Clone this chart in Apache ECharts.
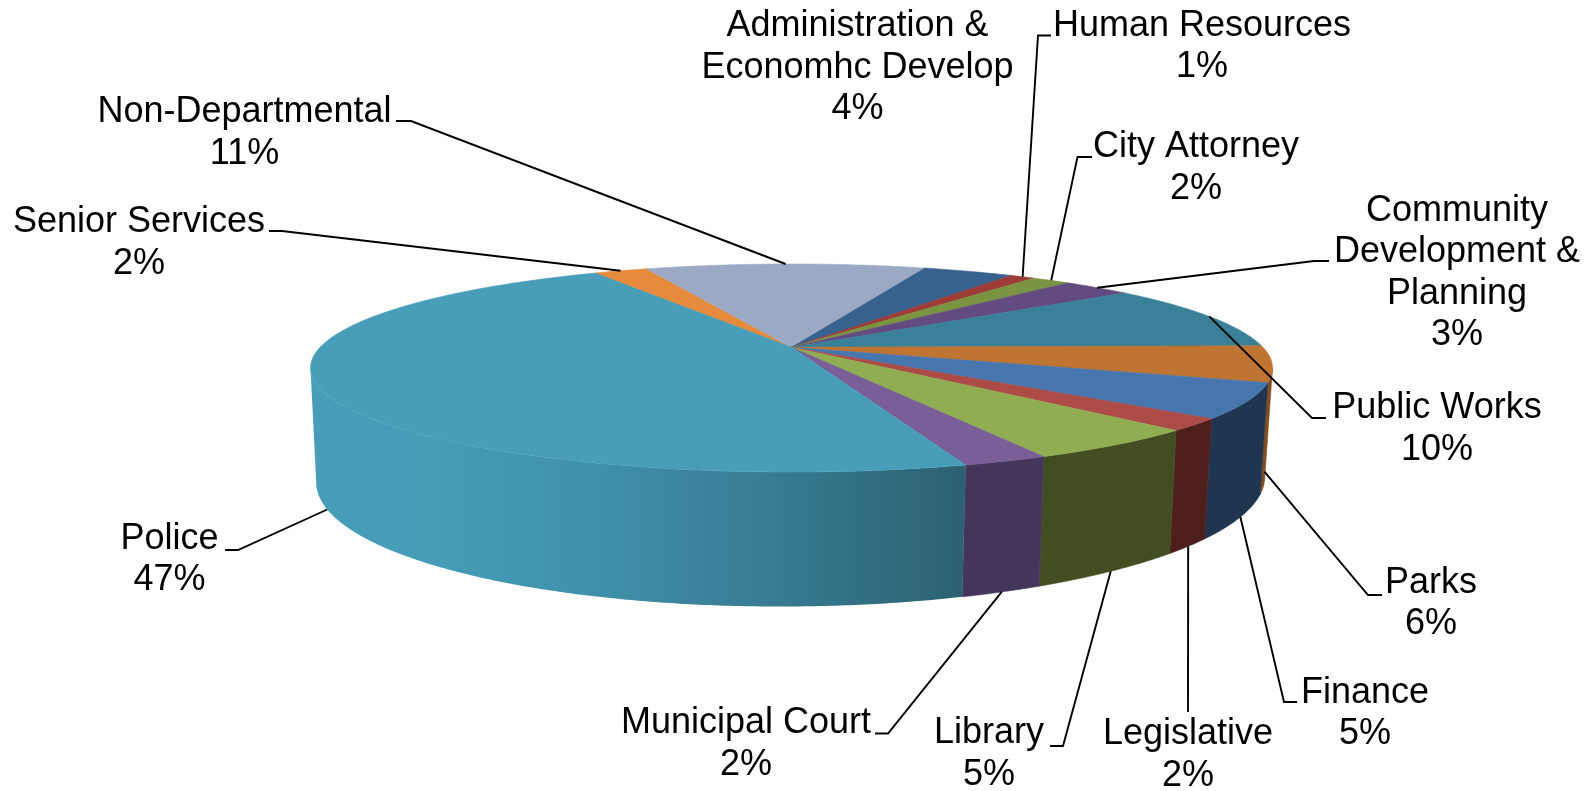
<!DOCTYPE html>
<html>
<head>
<meta charset="utf-8">
<style>html,body{margin:0;padding:0;background:#fff}#c{width:1591px;height:791px}</style>
<script src="https://cdn.jsdelivr.net/npm/echarts@6/dist/echarts.min.js"></script>
</head>
<body>
<div id="c"></div>
<script>
// ---- data (clockwise from the Senior Services / Police boundary)
var categories = ['Senior Services','Non-Departmental','Administration &\nEconomhc Develop','Human Resources','City Attorney','Community\nDevelopment &\nPlanning','Public Works','Parks','Finance','Legislative','Library','Municipal Court','Police'];
var shares = [2.2,11.4,3.7,1.0,1.6,2.8,10.2,5.6,5.4,1.9,5.1,2.4,46.7];

// ---- styles
var topColors  = ['#E68B3B','#9BA9C5','#37618F','#9E3B37','#7B9442','#634A80','#3A8098','#BF7431','#4775AE','#AD4B47','#90AD52','#795E98','#489DB9'];
var wallColors = ['#E68B3B','#9BA9C5','#37618F','#9E3B37','#7B9442','#634A80','#3A8098','#7F4E22','#1F3550','#4F1F1E','#434D22','#43365A',null];

// ---- layout: label centres, leader elbows, and which rim a leader lands on
var labelCentres = [[139,243],[244.5,133],[857.5,68],[1202,46.5],[1196,168],[1457,273],[1437,429],[1431,603.5],[1365,713.5],[1188,755],[989,754],[746,744],[169.5,559.5]];
var leaderElbows = [
  [[269,231],[282,231]],[[396,121],[411,121]],null,[[1051,35.5],[1038,35.5]],[[1092,157],[1077.5,157]],
  [[1329,261],[1314,261]],[[1326,418],[1312,418]],[[1382,595],[1368,595]],[[1297,702],[1284,702]],
  [[1188,712]],[[1050,746],[1063,746]],[[875,733.5],[888,733.5]],[[225,550],[238,550]]
];
var leaderOnBottom = [0,0,0,0,0,0,0,1,1,1,1,1,1];
var startAngle = -29.3;
var persp = 0.199;
var topFace = {cx:791.5, cy:347.3, rx:471.4, ry:99.9, tilt:0};
var baseFace = {cx:790.5, cy:454.2, rx:464.8, ry:122, tilt:0.006};
var wallFrom = 101.5, wallTo = 258.5;
var fontSize = 36, lineH = 41.5;

var total = shares.reduce(function(a,b){return a+b;},0);
var bounds = [startAngle];
shares.forEach(function(v,i){bounds.push(bounds[i]+v/total*360);});

function project(face, deg){
  var t = deg*Math.PI/180, X = Math.sin(t), Y = -Math.cos(t), w = 1-persp*Y;
  var dx = face.rx*X/w;
  return [face.cx+dx, face.cy+face.ry*Y/w-face.tilt*dx];
}
function arc(face, a, b){
  var pts = [], n = Math.max(2, Math.ceil(Math.abs(b-a)/0.5));
  for (var i=0;i<=n;i++) pts.push(project(face, a+(b-a)*i/n));
  return pts;
}
function renderWall(params, api){
  var i = api.value(0), a = Math.max(bounds[i],wallFrom), b = Math.min(bounds[i+1],wallTo);
  if (b<=a) return {type:'group',children:[]};
  var pts = arc(topFace,a,b).concat(arc(baseFace,b,a));
  var fill = wallColors[i] || new echarts.graphic.LinearGradient(316,0,966,0,[
    {offset:0,color:'#489DB9'},{offset:0.18,color:'#459DB8'},{offset:0.45,color:'#3F8FA8'},
    {offset:0.72,color:'#367A90'},{offset:1,color:'#2B6172'}],true);
  return {type:'polygon',shape:{points:pts},style:{fill:fill,stroke:wallColors[i]||'rgba(0,0,0,0)',lineWidth:wallColors[i]?0.6:0}};
}
function renderTop(params, api){
  var i = api.value(0);
  var pts = [[topFace.cx,topFace.cy]].concat(arc(topFace,bounds[i],bounds[i+1]));
  return {type:'polygon',shape:{points:pts},style:{fill:topColors[i],stroke:topColors[i],lineWidth:0.6}};
}
function renderLabel(params, api){
  var i = api.value(0), mid = (bounds[i]+bounds[i+1])/2, kids = [];
  if (leaderElbows[i]) {
    var end = project(leaderOnBottom[i]?baseFace:topFace, mid);
    kids.push({type:'polyline',shape:{points:leaderElbows[i].concat([end])},style:{fill:null,stroke:'#000',lineWidth:1.9}});
  }
  kids.push({type:'text',style:{
    text:categories[i]+'\n'+Math.round(shares[i])+'%',
    x:labelCentres[i][0],y:labelCentres[i][1],
    align:'center',verticalAlign:'middle',
    fontFamily:'"Liberation Sans",Arial,sans-serif',fontSize:fontSize,lineHeight:lineH,fill:'#000'}});
  return {type:'group',children:kids};
}
var rows = shares.map(function(v,i){return [i,v];});
var chart = echarts.init(document.getElementById('c'),null,{renderer:'canvas'});
chart.setOption({
  backgroundColor:'#fff',animation:false,
  series:[
    {type:'custom',coordinateSystem:'none',z:1,silent:true,data:rows,renderItem:renderWall},
    {type:'custom',coordinateSystem:'none',z:2,silent:true,data:rows,renderItem:renderTop},
    {type:'custom',coordinateSystem:'none',z:3,silent:true,data:rows,renderItem:renderLabel}
  ]
});
</script>
</body>
</html>
